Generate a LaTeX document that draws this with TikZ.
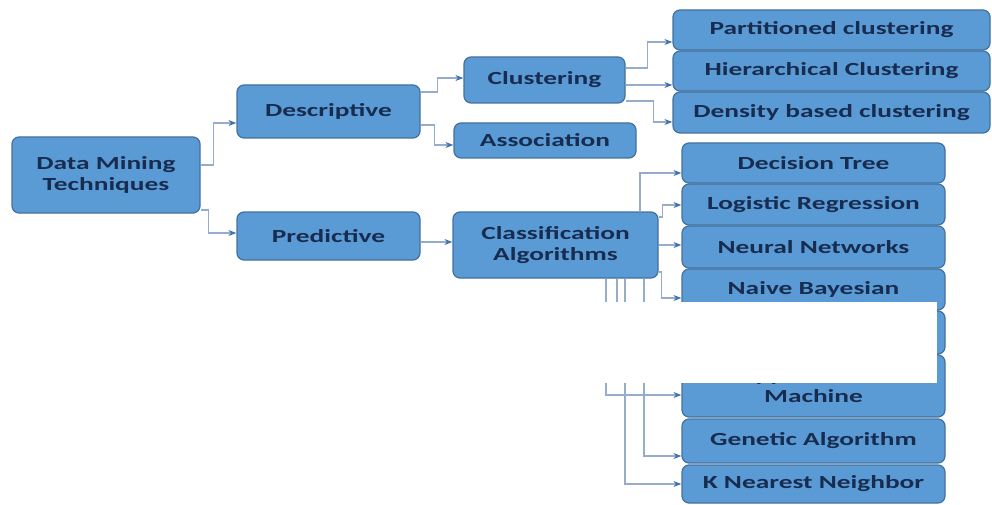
\documentclass[tikz,border=0pt]{standalone}
\usepackage{fontspec}
\newfontfamily\boxfont{Carlito}[FakeStretch=1.48]
\usetikzlibrary{arrows.meta}
\definecolor{boxfill}{RGB}{91,155,213}
\definecolor{boxline}{RGB}{65,113,156}
\definecolor{boxtext}{RGB}{24,44,80}
\definecolor{connline}{RGB}{150,172,205}
\definecolor{conntip}{RGB}{65,115,175}
\tikzset{
  bx/.style={draw=boxline, line width=1.2pt, fill=boxfill, rounded corners=7pt,
    text=boxtext, align=center, inner sep=0pt,
    font=\boxfont\bfseries\fontsize{18.5}{21}\selectfont},
  conn/.style={draw=connline, line width=1.3pt,
    -{Stealth[length=8pt,width=6pt,color=conntip]}},
}
\begin{document}
\begin{tikzpicture}[x=1pt,y=-1pt]
\useasboundingbox (0,0) rectangle (992,505);
% level 0/1
\node[bx, minimum width=188pt, minimum height=76pt] (dmt) at (106,175) {Data Mining\\Techniques};
\node[bx, minimum width=183pt, minimum height=53pt] (desc) at (328.5,111.5) {Descriptive};
\node[bx, minimum width=183pt, minimum height=48pt] (pred) at (328.5,236) {Predictive};
% level 2
\node[bx, minimum width=161pt, minimum height=46pt] (clus) at (544.5,80) {Clustering};
\node[bx, minimum width=182pt, minimum height=35pt] (assoc) at (545,140.5) {Association};
\node[bx, minimum width=205pt, minimum height=66pt] (cls) at (555.5,245) {Classification\\Algorithms};
% clustering children
\node[bx, minimum width=317pt, minimum height=40pt] (part) at (831.5,30) {Partitioned clustering};
\node[bx, minimum width=317pt, minimum height=40pt] (hier) at (831.5,71) {Hierarchical Clustering};
\node[bx, minimum width=317pt, minimum height=41pt] (dens) at (831.5,112.5) {Density based clustering};
% classification children
\node[bx, minimum width=263pt, minimum height=40pt] (dt) at (813.5,163) {Decision Tree};
\node[bx, minimum width=263pt, minimum height=41pt] (lr) at (813.5,204.5) {Logistic Regression};
\node[bx, minimum width=263pt, minimum height=42pt] (nn) at (813.5,247) {Neural Networks};
\node[bx, minimum width=263pt, minimum height=41pt] (nb) at (813.5,289.5) {Naive Bayesian};
\node[bx, minimum width=263pt, minimum height=43pt] (hid) at (813.5,332.5) {};
\node[bx, minimum width=263pt, minimum height=62pt] (svm) at (813.5,386) {Support Vector\\Machine};
\node[bx, minimum width=263pt, minimum height=44pt] (ga) at (813.5,441) {Genetic Algorithm};
\node[bx, minimum width=263pt, minimum height=38pt] (knn) at (813.5,484) {K Nearest Neighbor};
% connectors
\draw[conn] (dmt.east |- 0,165) -- ++(13,0) |- (desc.west |- 0,123);
\draw[conn] (dmt.east |- 0,210) -- ++(8,0) |- (pred.west |- 0,233);
\draw[conn] (pred.east |- 0,242) -- (cls.west |- 0,242);
\draw[conn] (desc.east |- 0,92) -- ++(17,0) |- (clus.west |- 0,78);
\draw[conn] (desc.east |- 0,125) -- ++(14,0) |- (assoc.west |- 0,145);
\draw[conn] (clus.east |- 0,68) -- ++(22,0) |- (part.west |- 0,42);
\draw[conn] (clus.east |- 0,85) -- (hier.west |- 0,85);
\draw[conn] (clus.east |- 0,101) -- ++(28,0) |- (dens.west |- 0,122);
\draw[conn] (cls.north -| 640,0) |- (dt.west |- 0,173);
\draw[conn] (cls.east |- 0,217) -- ++(4,0) |- (lr.west |- 0,205);
\draw[conn] (cls.east |- 0,245) -- (nn.west |- 0,245);
\draw[conn] (cls.east |- 0,272) -- ++(3,0) |- (nb.west |- 0,298);
\draw[conn] (cls.south -| 617,0) |- (hid.west |- 0,335);
\draw[conn] (cls.south -| 606,0) |- (svm.west |- 0,395);
\draw[conn] (cls.south -| 644,0) |- (ga.west |- 0,456);
\draw[conn] (cls.south -| 625,0) |- (knn.west |- 0,484);
% white patch over the picture
\fill[white] (604,302) rectangle (937,383);
\end{tikzpicture}
\end{document}
